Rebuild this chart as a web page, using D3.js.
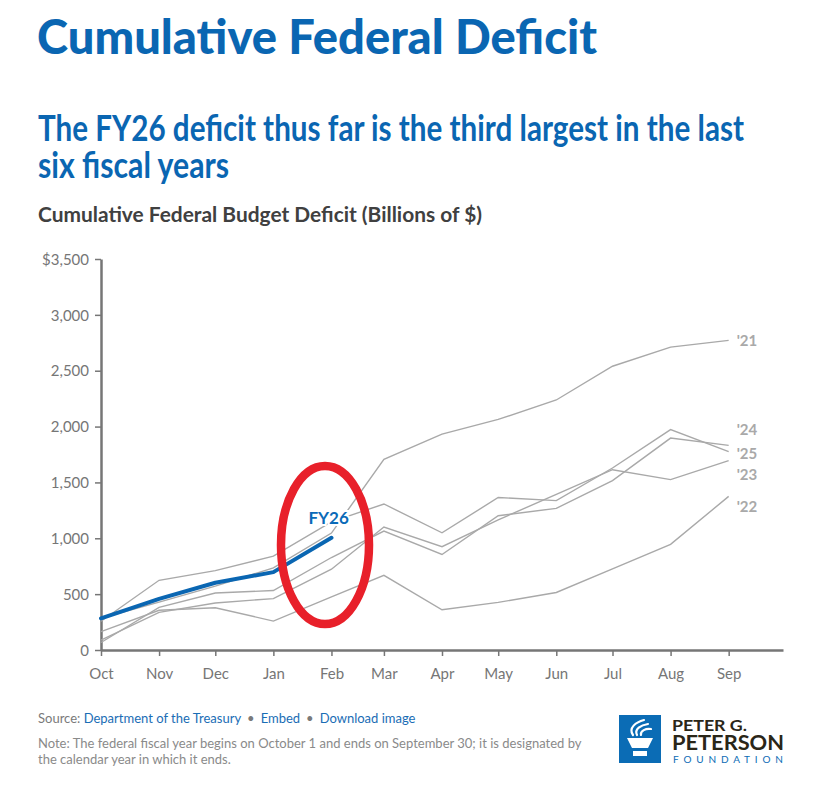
<!DOCTYPE html>
<html>
<head>
<meta charset="utf-8">
<script src="https://cdn.jsdelivr.net/npm/d3@7"></script>
<style>
  body { margin: 0; background: #fff; }
  text { font-family: Lato, "Open Sans", sans-serif; }
</style>
</head>
<body>
<div id="canvas"></div>
<script>
// DATA
const months = ["Oct", "Nov", "Dec", "Jan", "Feb", "Mar", "Apr", "May", "Jun", "Jul", "Aug", "Sep"];
const fy21 = [284, 429, 572, 735, 1047, 1706, 1932, 2064, 2238, 2540, 2711, 2772];
const fy22 = [165, 356, 378, 259, 475, 668, 360, 426, 515, 726, 946, 1375];
const fy23 = [88, 337, 421, 460, 723, 1101, 925, 1165, 1393, 1614, 1525, 1695];
const fy24 = [67, 381, 510, 532, 828, 1065, 855, 1202, 1268, 1516, 1897, 1832];
const fy25 = [257, 624, 711, 840, 1147, 1307, 1049, 1365, 1337, 1629, 1973, 1775];
const fy26 = [284, 458, 602, 697, 1004];
const pastYears = ["'21", "'22", "'23", "'24", "'25"];
const yTicks = [0, 500, 1000, 1500, 2000, 2500, 3000, 3500];

function drawGraph() {
  // DIMENSIONS
  const width = 830;
  const height = 794;
  const blue = "#0a66b2";

  const canvas = d3.select("#canvas")
    .append("svg")
    .attr("width", width)
    .attr("height", height)
    .style("background", "#fff");

  // TITLES
  canvas.append("text")
    .attr("x", 37).attr("y", 54)
    .attr("textLength", 560).attr("lengthAdjust", "spacingAndGlyphs")
    .style("font-size", "47px").style("font-weight", 900)
    .style("fill", blue)
    .text("Cumulative Federal Deficit");

  const sub = canvas.append("g")
    .style("font-size", "37px").style("font-weight", 700)
    .style("fill", blue);
  sub.append("text")
    .attr("x", 38).attr("y", 141)
    .attr("textLength", 706).attr("lengthAdjust", "spacingAndGlyphs")
    .text("The FY26 deficit thus far is the third largest in the last");
  sub.append("text")
    .attr("x", 38).attr("y", 178)
    .attr("textLength", 191).attr("lengthAdjust", "spacingAndGlyphs")
    .text("six fiscal years");

  canvas.append("text")
    .attr("x", 38).attr("y", 222)
    .attr("textLength", 444).attr("lengthAdjust", "spacingAndGlyphs")
    .style("font-size", "20px").style("font-weight", 700)
    .style("fill", "#404040")
    .text("Cumulative Federal Budget Deficit (Billions of $)");

  // SCALES
  const dates = months.map((m, i) => new Date(2025, 9 + i, 1));
  const xScale = d3.scaleTime()
    .domain([new Date(2025, 9, 1), new Date(2026, 8, 30)])
    .range([101, 783]);
  const yScale = d3.scaleLinear()
    .domain([0, 3500])
    .range([650, 259]);

  // AXES
  const xAx = d3.axisBottom(xScale)
    .tickValues(dates)
    .tickFormat((d, i) => months[i])
    .tickSize(6).tickSizeOuter(0).tickPadding(12);
  const yAx = d3.axisLeft(yScale)
    .tickValues(yTicks)
    .tickFormat(d => (d === 3500 ? "$" : "") + d3.format(",")(d))
    .tickSize(6).tickSizeOuter(0).tickPadding(6);

  const xAxisHolder = canvas.append("g")
    .attr("transform", "translate(0, 650)")
    .call(xAx);
  const yAxisHolder = canvas.append("g")
    .attr("transform", "translate(101, 0)")
    .call(yAx);

  [xAxisHolder, yAxisHolder].forEach(g => {
    g.select(".domain").attr("stroke", "#767676").attr("stroke-width", 2.5);
    g.selectAll(".tick line").attr("stroke", "#767676").attr("stroke-width", 1.5);
    g.selectAll(".tick text")
      .style("font-family", "Lato, sans-serif")
      .style("font-size", "15px")
      .attr("fill", "#767676");
  });
  yAxisHolder.selectAll(".tick text").attr("dy", "0.35em");

  // LINES
  const line = d3.line()
    .x((d, i) => xScale(dates[i]))
    .y(d => yScale(d));

  const past = [fy21, fy22, fy23, fy24, fy25];
  canvas.append("g")
    .selectAll("path")
    .data(past)
    .join("path")
    .attr("d", line)
    .attr("fill", "none")
    .attr("stroke", "#a9a9a9")
    .attr("stroke-width", 1.4);

  // end labels, nudged apart where they crowd
  const nudge = [1, 11, 14, -15, 2];
  canvas.append("g")
    .selectAll("text")
    .data(past)
    .join("text")
    .attr("x", xScale(dates[11]) + 8)
    .attr("y", (d, i) => yScale(d[d.length - 1]) + 5 + nudge[i])
    .style("font-size", "15px").style("font-weight", 700)
    .style("fill", "#a9a9a9")
    .text((d, i) => pastYears[i]);

  canvas.append("path")
    .datum(fy26)
    .attr("d", line)
    .attr("fill", "none")
    .attr("stroke", "#0a66b2")
    .attr("stroke-width", 4)
    .attr("stroke-linecap", "round")
    .attr("stroke-linejoin", "round");

  canvas.append("text")
    .attr("x", xScale(dates[4]) - 23)
    .attr("y", yScale(fy26[4]) - 14)
    .style("font-size", "17px").style("font-weight", 700)
    .style("fill", "#0a6ab8")
    .style("stroke", "#fff").style("stroke-width", 4)
    .style("paint-order", "stroke")
    .text("FY26");

  // HIGHLIGHT
  canvas.append("ellipse")
    .attr("cx", 325).attr("cy", 545)
    .attr("rx", 44).attr("ry", 79)
    .attr("fill", "none")
    .attr("stroke", "#e8202a")
    .attr("stroke-width", 8.5);

  // FOOTER
  const src = canvas.append("text")
    .attr("x", 38).attr("y", 723)
    .style("font-size", "13px")
    .style("fill", "#7a7a7a");
  src.append("tspan").text("Source: ");
  src.append("tspan").style("fill", "#1a6db5").text("Department of the Treasury");
  src.append("tspan").attr("dx", 6).text("•");
  src.append("tspan").attr("dx", 6).style("fill", "#1a6db5").text("Embed");
  src.append("tspan").attr("dx", 6).text("•");
  src.append("tspan").attr("dx", 6).style("fill", "#1a6db5").text("Download image");

  const note = canvas.append("g")
    .style("font-size", "13px")
    .style("fill", "#8a8a8a");
  note.append("text").attr("x", 38).attr("y", 748)
    .text("Note: The federal fiscal year begins on October 1 and ends on September 30; it is designated by");
  note.append("text").attr("x", 38).attr("y", 764)
    .text("the calendar year in which it ends.");

  // LOGO
  const logo = canvas.append("g");
  logo.append("rect")
    .attr("x", 619).attr("y", 715)
    .attr("width", 42).attr("height", 48)
    .attr("fill", "#0b6cb5");
  logo.append("path")
    .attr("d", "M627,738 L653,738 L648,748 L632,748 Z M633,751 L647,751 L647,756 L633,756 Z")
    .attr("fill", "#fff");
  logo.append("path")
    .attr("d", "M633,735 C628,728 636,722 644,720 M637,735 C634,729 641,725 648,724 M641,735 C640,731 646,728 651,729")
    .attr("fill", "none")
    .attr("stroke", "#fff")
    .attr("stroke-width", 2.2)
    .attr("stroke-linecap", "round");
  logo.append("text")
    .attr("x", 672).attr("y", 731)
    .attr("textLength", 75).attr("lengthAdjust", "spacingAndGlyphs")
    .style("font-size", "16px").style("font-weight", 700)
    .style("fill", "#2a2618")
    .text("PETER G.");
  logo.append("text")
    .attr("x", 672).attr("y", 750)
    .attr("textLength", 112).attr("lengthAdjust", "spacingAndGlyphs")
    .style("font-size", "20px").style("font-weight", 700)
    .style("fill", "#2a2618")
    .text("PETERSON");
  logo.append("text")
    .attr("x", 673).attr("y", 763)
    .attr("textLength", 110).attr("lengthAdjust", "spacing")
    .style("font-size", "10px").style("font-weight", 400)
    .style("fill", "#0b6cb5")
    .text("FOUNDATION");
}

drawGraph();
</script>
</body>
</html>
